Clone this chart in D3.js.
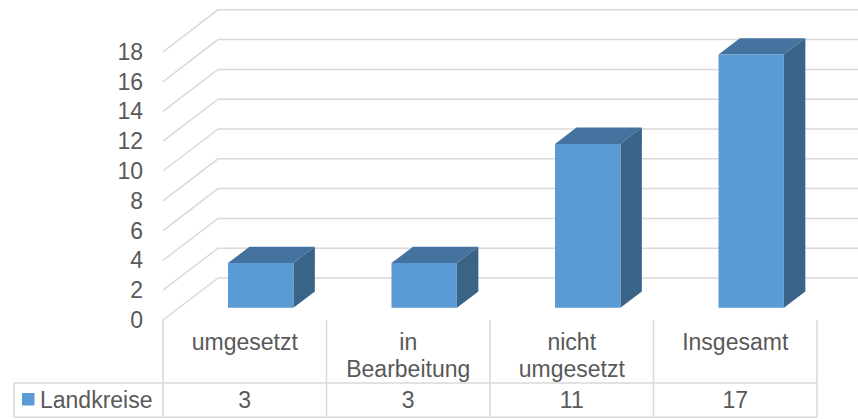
<!DOCTYPE html>
<html>
<head>
<meta charset="utf-8">
<script src="https://cdn.jsdelivr.net/npm/d3@7"></script>
<style>
  body { margin: 0; background: #fff; }
  svg { display: block; font-family: "Liberation Sans", Arial, sans-serif; }
</style>
</head>
<body>
<svg width="858" height="419"></svg>
<script>
// chart data
var seriesName = "Landkreise"
var categories = [["umgesetzt"], ["in", "Bearbeitung"], ["nicht", "umgesetzt"], ["Insgesamt"]]
var values = [3, 3, 11, 17]
var yTicks = [0, 2, 4, 6, 8, 10, 12, 14, 16, 18]

var svg = d3.select("svg")
var textColor = "#595959"
var gridColor = "#d9d9d9"

// 3d depth of floor
var depthX = 55, depthY = -42
var x = d3.scaleBand().domain(d3.range(values.length)).range([163, 817])
var y = d3.scaleLinear().domain([0, 18]).range([320, 51.8])

function pt(px, v, d) {
	return [px + depthX * d, y(v) + depthY * d]
}

// back wall gridlines
var grid = svg.append("g")
yTicks.forEach(function(t) {
	var a = pt(x.range()[0], t, 0), b = pt(x.range()[0], t, 1), c = pt(x.range()[1] + 60, t, 1)
	grid.append("polyline")
		.attr("points", [a, b, c].map(function(p) { return p.join(",") }).join(" "))
		.attr("fill", "none").attr("stroke", gridColor).attr("stroke-width", 1.5)
})

// y labels
svg.append("g").selectAll("text").data(yTicks).enter().append("text")
	.attr("x", 143).attr("y", function(d) { return y(d) })
	.attr("dy", "0.35em").attr("text-anchor", "end")
	.attr("font-size", 23).attr("fill", textColor)
	.text(function(d) { return d })

// bars
var d1 = 0.29, d2 = 0.68
var bw = x.bandwidth() * 0.4
var bars = svg.append("g").selectAll("g").data(values).enter().append("g")
function poly(pts) { return pts.map(function(p) { return p.join(",") }).join(" ") }
bars.each(function(v, i) {
	var g = d3.select(this)
	var x0 = x(i) + (x.bandwidth() - bw) / 2, x1 = x0 + bw
	// top
	g.append("polygon").attr("fill", "#44739f")
		.attr("points", poly([pt(x0, v, d1), pt(x1, v, d1), pt(x1, v, d2), pt(x0, v, d2)]))
	// side
	g.append("polygon").attr("fill", "#3a6487")
		.attr("points", poly([pt(x1, 0, d1), pt(x1, v, d1), pt(x1, v, d2), pt(x1, 0, d2)]))
	// front
	g.append("polygon").attr("fill", "#5b9bd5")
		.attr("points", poly([pt(x0, 0, d1), pt(x1, 0, d1), pt(x1, v, d1), pt(x0, v, d1)]))
})

// category labels
var cats = svg.append("g").selectAll("text").data(categories).enter().append("text")
	.attr("text-anchor", "middle").attr("font-size", 23).attr("fill", textColor)
cats.each(function(lines, i) {
	var t = d3.select(this)
	lines.forEach(function(l, j) {
		t.append("tspan").attr("x", x(i) + x.bandwidth() / 2).attr("y", 350 + j * 27).text(l)
	})
})

// data table
var rowTop = 383, rowBot = 417.3
var tbl = svg.append("g").attr("stroke", gridColor).attr("stroke-width", 1.5)
x.domain().concat([values.length]).forEach(function(i) {
	var xx = i < values.length ? x(i) : x.range()[1]
	tbl.append("line").attr("x1", xx).attr("x2", xx).attr("y1", 320).attr("y2", rowBot)
})
tbl.append("line").attr("x1", 14).attr("x2", 14).attr("y1", rowTop).attr("y2", rowBot)
tbl.append("line").attr("x1", 14).attr("x2", x.range()[1]).attr("y1", rowTop).attr("y2", rowTop)
tbl.append("line").attr("x1", 14).attr("x2", x.range()[1]).attr("y1", rowBot).attr("y2", rowBot)

svg.append("rect").attr("x", 22).attr("y", 393).attr("width", 12.5).attr("height", 12.5).attr("fill", "#5b9bd5")
svg.append("text").attr("x", 40).attr("y", 407.5).attr("font-size", 23).attr("fill", textColor).text(seriesName)

svg.append("g").selectAll("text").data(values).enter().append("text")
	.attr("x", function(d, i) { return x(i) + x.bandwidth() / 2 }).attr("y", 407.5)
	.attr("text-anchor", "middle").attr("font-size", 23).attr("fill", textColor)
	.text(function(d) { return d })
</script>
</body>
</html>
